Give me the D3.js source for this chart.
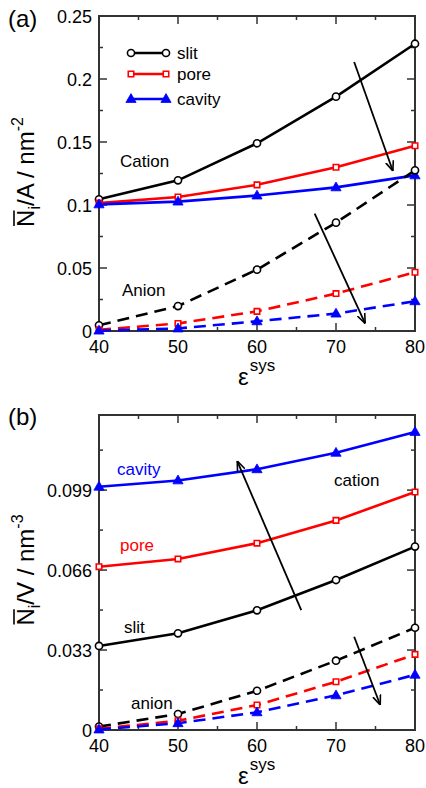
<!DOCTYPE html>
<html>
<head>
<meta charset="utf-8">
<script src="https://cdn.jsdelivr.net/npm/d3@7"></script>
<style>
  body { margin: 0; background: #fff; }
  svg { display: block; font-family: "Liberation Sans", Arial, sans-serif; }
</style>
</head>
<body>
<div id="chart"></div>
<script>
// x values (epsilon sys)
var epsVals = [40, 50, 60, 70, 80];

// panel (a): N_i / A
var aSlitCation   = [0.1045, 0.1196, 0.149, 0.186, 0.228];
var aPoreCation   = [0.1015, 0.1063, 0.116, 0.130, 0.147];
var aCavityCation = [0.1005, 0.1027, 0.1075, 0.114, 0.1235];
var aSlitAnion    = [0.0045, 0.0198, 0.0487, 0.086, 0.1275];
var aPoreAnion    = [0.001, 0.006, 0.0156, 0.0297, 0.0466];
var aCavityAnion  = [0.0003, 0.002, 0.0077, 0.0138, 0.0236];

// panel (b): N_i / V
var bSlitCation   = [0.0347, 0.0399, 0.0494, 0.0619, 0.0757];
var bPoreCation   = [0.0674, 0.0706, 0.0771, 0.0865, 0.0982];
var bCavityCation = [0.1004, 0.103, 0.1076, 0.1144, 0.123];
var bSlitAnion    = [0.0014, 0.0066, 0.0162, 0.0286, 0.0422];
var bPoreAnion    = [0.0005, 0.0038, 0.0103, 0.0199, 0.0312];
var bCavityAnion  = [0.0002, 0.0028, 0.0073, 0.0143, 0.0228];

// tick labels
var xTicks = [40, 50, 60, 70, 80];
var aYTicks = [0, 0.05, 0.1, 0.15, 0.2, 0.25];
var bYTicks = [0, 0.033, 0.066, 0.099];

// arrows, data coords [x1, y1, x2, y2]
var aArrows = [[72.3, 0.2135, 77.2, 0.127], [67.3, 0.0932, 73.7, 0.0059]];
var bArrows = [[65.6, 0.0495, 57.5, 0.111], [72.3, 0.0385, 75.6, 0.0103]];

var W = 426, H = 788;
var svg = d3.select("#chart").append("svg").attr("width", W).attr("height", H);

var defs = svg.append("defs");
defs.append("marker")
  .attr("id", "arr")
  .attr("viewBox", "0 0 10 10")
  .attr("refX", 10).attr("refY", 5)
  .attr("markerWidth", 10).attr("markerHeight", 10)
  .attr("markerUnits", "userSpaceOnUse")
  .attr("orient", "auto")
  .append("path")
  .attr("d", "M0,1 L10,5 L0,9")
  .attr("fill", "none").attr("stroke", "#000").attr("stroke-width", 1.6);

var sym = {
  circle: d3.symbol().type(d3.symbolCircle).size(40),
  square: d3.symbol().type(d3.symbolSquare).size(30),
  triangle: d3.symbol().type(d3.symbolTriangle).size(45)
};

function drawMarker(g, kind, color, x, y) {
  var filled = kind === "triangle";
  g.append("path")
    .attr("d", sym[kind]())
    .attr("transform", "translate(" + x + "," + (kind === "triangle" ? y + 0.5 : y) + ")")
    .attr("fill", filled ? color : "#fff")
    .attr("stroke", color)
    .attr("stroke-width", filled ? 0.8 : 1.6);
}

function panel(opt) {
  var x = d3.scaleLinear().domain([40, 80]).range([99, 415]);
  var y = d3.scaleLinear().domain(opt.yDomain).range([opt.bottom, opt.top]);
  var g = svg.append("g");

  // frame
  g.append("rect")
    .attr("x", 99).attr("y", opt.top)
    .attr("width", 316).attr("height", opt.bottom - opt.top)
    .attr("fill", "none").attr("stroke", "#333").attr("stroke-width", 2);

  // ticks on all sides, inward
  var xMinor = d3.range(40, 81, 5);
  xMinor.forEach(function (v) {
    var len = v % 10 === 0 ? 8 : 4;
    g.append("line").attr("x1", x(v)).attr("x2", x(v))
      .attr("y1", opt.bottom).attr("y2", opt.bottom - len)
      .attr("stroke", "#333").attr("stroke-width", 1.5);
    g.append("line").attr("x1", x(v)).attr("x2", x(v))
      .attr("y1", opt.top).attr("y2", opt.top + len)
      .attr("stroke", "#333").attr("stroke-width", 1.5);
  });
  var step = opt.yTicks[1] - opt.yTicks[0];
  var yt = [];
  for (var v = 0; v <= opt.yDomain[1] + 1e-9; v += step / 2) yt.push(v);
  yt.forEach(function (v, i) {
    var len = i % 2 === 0 ? 8 : 4;
    g.append("line").attr("y1", y(v)).attr("y2", y(v))
      .attr("x1", 99).attr("x2", 99 + len)
      .attr("stroke", "#333").attr("stroke-width", 1.5);
    g.append("line").attr("y1", y(v)).attr("y2", y(v))
      .attr("x1", 415).attr("x2", 415 - len)
      .attr("stroke", "#333").attr("stroke-width", 1.5);
  });

  // tick labels
  g.selectAll(".xl").data(xTicks).enter().append("text")
    .attr("x", function (d) { return x(d); })
    .attr("y", opt.bottom + 22)
    .attr("text-anchor", "middle").attr("font-size", 18)
    .text(function (d) { return d; });
  g.selectAll(".yl").data(opt.yTicks).enter().append("text")
    .attr("x", 92)
    .attr("y", function (d) { return y(d) + 6.5; })
    .attr("text-anchor", "end").attr("font-size", 18)
    .text(function (d) { return d; });

  // x title
  var xt = g.append("text").attr("x", 238).attr("y", opt.bottom + 54).attr("font-size", 24);
  xt.append("tspan").text("ε");
  xt.append("tspan").attr("font-size", 17).attr("dy", -14).attr("dx", 1).text("sys");

  // y title
  var yg = g.append("g").attr("transform", "translate(" + opt.yTitleX + "," + opt.yTitleY + ") rotate(-90)");
  var yl = yg.append("text").attr("text-anchor", "middle").attr("font-size", 24);
  yl.append("tspan").text("N");
  yl.append("tspan").attr("font-size", 16).attr("dy", 6).text("i");
  yl.append("tspan").attr("dy", -6).text("/" + opt.yVar + " / nm");
  yl.append("tspan").attr("font-size", 16).attr("dy", -11).text(opt.yExp);
  var nBox = yl.node().getExtentOfChar(0);
  yg.append("line")
    .attr("x1", nBox.x + 1).attr("x2", nBox.x + nBox.width - 1)
    .attr("y1", nBox.y + 2).attr("y2", nBox.y + 2)
    .attr("stroke", "#000").attr("stroke-width", 1.6);

  // panel label
  svg.append("text").attr("x", 8).attr("y", opt.labelY).attr("font-size", 24).text(opt.label);

  // series
  var line = d3.line().x(function (d, i) { return x(epsVals[i]); }).y(function (d) { return y(d); });
  opt.series.forEach(function (s) {
    g.append("path").datum(s.values)
      .attr("d", line)
      .attr("fill", "none").attr("stroke", s.color).attr("stroke-width", 2.6)
      .attr("stroke-dasharray", s.dashed ? "12,7" : null);
  });
  opt.series.forEach(function (s) {
    s.values.forEach(function (d, i) { drawMarker(g, s.kind, s.color, x(epsVals[i]), y(d)); });
  });

  // arrows
  opt.arrows.forEach(function (a) {
    g.append("line")
      .attr("x1", x(a[0])).attr("y1", y(a[1]))
      .attr("x2", x(a[2])).attr("y2", y(a[3]))
      .attr("stroke", "#000").attr("stroke-width", 1.8)
      .attr("marker-end", "url(#arr)");
  });

  // annotations
  opt.notes.forEach(function (n) {
    g.append("text").attr("x", n.x).attr("y", n.y).attr("font-size", 17)
      .attr("fill", n.color).text(n.text);
  });

  return { g: g, x: x, y: y };
}

var pa = panel({
  top: 16, bottom: 331, yDomain: [0, 0.25], yTicks: aYTicks,
  yVar: "A", yExp: "-2", yTitleX: 34, yTitleY: 172,
  label: "(a)", labelY: 27,
  arrows: aArrows,
  series: [
    { values: aSlitCation, color: "#000", kind: "circle" },
    { values: aPoreCation, color: "#f00", kind: "square" },
    { values: aCavityCation, color: "#00f", kind: "triangle" },
    { values: aSlitAnion, color: "#000", kind: "circle", dashed: true },
    { values: aPoreAnion, color: "#f00", kind: "square", dashed: true },
    { values: aCavityAnion, color: "#00f", kind: "triangle", dashed: true }
  ],
  notes: [
    { x: 120, y: 167, text: "Cation", color: "#000" },
    { x: 122, y: 296, text: "Anion", color: "#000" }
  ]
});

// legend in (a)
var legend = [
  { name: "slit", color: "#000", kind: "circle", y: 53 },
  { name: "pore", color: "#f00", kind: "square", y: 74 },
  { name: "cavity", color: "#00f", kind: "triangle", y: 99 }
];
legend.forEach(function (l) {
  pa.g.append("line").attr("x1", 131).attr("x2", 166).attr("y1", l.y).attr("y2", l.y)
    .attr("stroke", l.color).attr("stroke-width", 2.6);
  drawMarker(pa.g, l.kind, l.color, 131, l.y);
  drawMarker(pa.g, l.kind, l.color, 166, l.y);
  pa.g.append("text").attr("x", 177).attr("y", l.y + 6).attr("font-size", 17).text(l.name);
});

panel({
  top: 415, bottom: 730, yDomain: [0, 0.13], yTicks: bYTicks,
  yVar: "V", yExp: "-3", yTitleX: 34, yTitleY: 570,
  label: "(b)", labelY: 425,
  arrows: bArrows,
  series: [
    { values: bSlitCation, color: "#000", kind: "circle" },
    { values: bPoreCation, color: "#f00", kind: "square" },
    { values: bCavityCation, color: "#00f", kind: "triangle" },
    { values: bSlitAnion, color: "#000", kind: "circle", dashed: true },
    { values: bPoreAnion, color: "#f00", kind: "square", dashed: true },
    { values: bCavityAnion, color: "#00f", kind: "triangle", dashed: true }
  ],
  notes: [
    { x: 117, y: 475, text: "cavity", color: "#00f" },
    { x: 334, y: 486, text: "cation", color: "#000" },
    { x: 120, y: 551, text: "pore", color: "#f00" },
    { x: 124, y: 633, text: "slit", color: "#000" },
    { x: 131, y: 709, text: "anion", color: "#000" }
  ]
});
</script>
</body>
</html>
